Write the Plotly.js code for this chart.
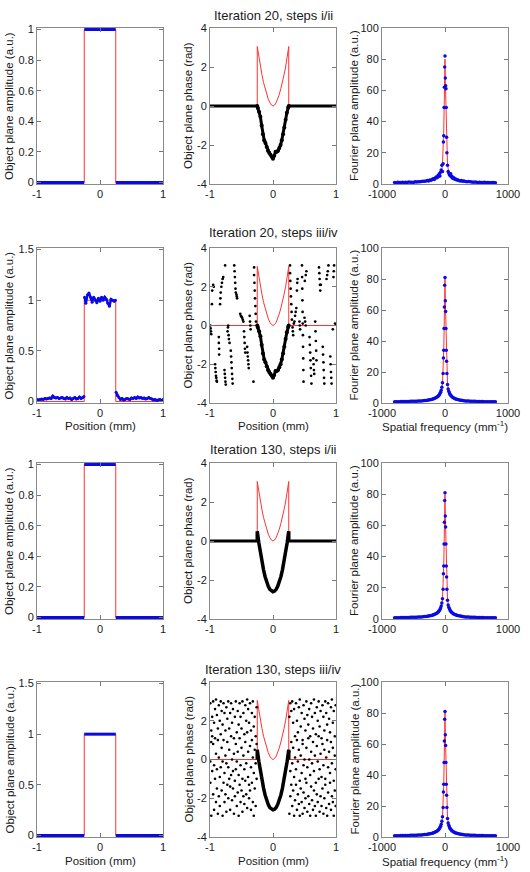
<!DOCTYPE html>
<html><head><meta charset="utf-8">
<script src="https://cdn.plot.ly/plotly-3.0.1.min.js"></script>
<style>html,body{margin:0;padding:0;background:#fff;}#chart{width:530px;height:872px;}</style>
</head><body><div id="chart"></div>
<script>
// ---------------- DATA ----------------
// Object plane: true amplitude (red) and recovered amplitude (blue)
const truthAmpX = [-1, -0.25, -0.25, 0.25, 0.25, 1];
const truthAmpY = [0, 0, 1, 1, 0, 0];
const cleanAmpX = [-1, -0.25, -0.25, -0.25, 0.25, 0.25, 0.25, 1];
const cleanAmpY = [0, 0, null, 1, 1, null, 0, 0];

// Iteration 20, steps iii/iv: noisy recovered amplitude
const noisyAmpX = [-1,-0.975,-0.95,-0.925,-0.9,-0.875,-0.85,-0.825,-0.8,-0.775,-0.75,-0.725,-0.7,-0.675,-0.65,-0.625,-0.6,-0.575,-0.55,-0.525,-0.5,-0.475,-0.45,-0.425,-0.4,-0.375,-0.35,-0.325,-0.3,-0.275,-0.255,
  -0.25,
  -0.245,-0.225,-0.2,-0.175,-0.15,-0.125,-0.1,-0.075,-0.05,-0.025,0,0.025,0.05,0.075,0.1,0.125,0.15,0.175,0.2,0.225,0.245,
  0.25,
  0.255,0.275,0.3,0.325,0.35,0.375,0.4,0.425,0.45,0.475,0.5,0.525,0.55,0.575,0.6,0.625,0.65,0.675,0.7,0.725,0.75,0.775,0.8,0.825,0.85,0.875,0.9,0.925,0.95,0.975,1];
const noisyAmpY = [0.02,0.015,0.02,0.025,0.02,0.03,0.025,0.03,0.035,0.03,0.055,0.04,0.035,0.04,0.03,0.035,0.04,0.03,0.025,0.04,0.03,0.035,0.02,0.03,0.04,0.025,0.03,0.045,0.03,0.04,0.05,
  null,
  1.03,0.97,1.05,1.07,1.03,0.98,1.03,1.0,0.975,1.02,0.99,1.03,1.0,1.03,1.01,0.97,0.94,1.01,1.0,0.99,1.0,
  null,
  0.09,0.06,0.04,0.02,0.03,0.015,0.02,0.03,0.025,0.02,0.035,0.03,0.04,0.03,0.045,0.035,0.04,0.03,0.035,0.025,0.03,0.04,0.03,0.025,0.015,0.02,0.01,0.015,0.02,0.01,0.02];

// Object plane phase: true phase (red)
const truthPhX = [-1,-0.25,-0.25,-0.225,-0.2,-0.175,-0.15,-0.125,-0.1,-0.075,-0.05,-0.025,0,0.025,0.05,0.075,0.1,0.125,0.15,0.175,0.2,0.225,0.25,0.25,1];
const truthPhY = [0,0,3.05,2.5,2.0,1.6,1.2,0.9,0.6,0.35,0.17,0.05,0,0.05,0.17,0.35,0.6,0.9,1.2,1.6,2.0,2.5,3.05,0,0];

// Phase outside the object (flat zero), steps i/ii
const zeroPhX = [-1, -0.25, 0, 0.25, 1];
const zeroPhY = [0, 0, null, 0, 0];

// Iteration 20 recovered phase inside the object (noisy)
const noisyPhX = [-0.25,-0.24,-0.22,-0.2,-0.18,-0.16,-0.14,-0.12,-0.1,-0.08,-0.06,-0.04,-0.02,0,0.02,0.04,0.06,0.08,0.1,0.12,0.14,0.16,0.18,0.2,0.22,0.24,0.25];
const noisyPhY = [0,-0.1,-0.3,-0.55,-1.0,-1.45,-1.75,-1.9,-2.1,-2.3,-2.4,-2.5,-2.6,-2.7,-2.55,-2.35,-2.35,-2.3,-2.15,-2.0,-1.75,-1.45,-1.1,-0.7,-0.35,-0.08,0];

// Iteration 130 recovered phase inside the object (smooth)
const smoothPhX = [-0.25,-0.25,-0.225,-0.2,-0.175,-0.15,-0.125,-0.1,-0.075,-0.05,-0.025,0,0.025,0.05,0.075,0.1,0.125,0.15,0.175,0.2,0.225,0.25,0.25];
const smoothPhY = [0,0.5,-0.09,-0.62,-1.08,-1.48,-1.83,-2.1,-2.32,-2.48,-2.57,-2.6,-2.57,-2.48,-2.32,-2.1,-1.83,-1.48,-1.08,-0.62,-0.09,0.5,0];

// Iteration 20, steps iii/iv: wrapped phase outside the object
const scat20X = [-0.995,-0.99,-0.985,-0.98, -0.97,-0.965,-0.95,-0.94,
  -0.92,-0.915,-0.91,-0.905,-0.9,-0.895,-0.89, -0.86,-0.86,-0.855,-0.855,
  -0.84,-0.835,-0.83,-0.82,-0.81,-0.8,-0.79, -0.76,-0.77,-0.765,-0.76,-0.755,-0.75,
  -0.72,-0.715,-0.71,-0.705,-0.7,-0.69, -0.67,-0.665,-0.66,-0.655,-0.65,-0.645,-0.64,
  -0.615,-0.61,-0.605,-0.6,-0.595,-0.59,-0.58,-0.575,-0.57, -0.52,-0.51,-0.5,-0.49,-0.48,-0.47,
  -0.46,-0.455,-0.45,-0.445,-0.44, -0.41,-0.405,-0.4,-0.395,-0.39,-0.385, -0.37,-0.365,-0.36,-0.355,
  -0.3,-0.3,-0.295,-0.29,-0.285,-0.28,-0.275,-0.27,-0.31,
  0.27,0.27,0.275,0.28,0.285,0.29,0.295,0.3, 0.31,0.315,0.32,0.33,0.34, 0.35,0.36,0.37,0.38,0.385,0.39,
  0.42,0.425,0.43, 0.46,0.462,0.465,0.467,0.47,0.472,0.475,0.477,0.48,0.482,0.485,
  0.5,0.51,0.52,0.505,0.52,0.53, 0.58,0.585,0.59,0.595,0.6,0.605,0.61, 0.64,0.645,0.65,0.655,
  0.67,0.675,0.68,0.685,0.69, 0.73,0.735,0.74,0.745,0.75,0.76, 0.79,0.795,0.8,0.805,0.81,0.815,
  0.85,0.86,0.87,0.88, 0.91,0.915,0.92,0.925,0.93, 0.96,0.965,0.97,0.95,0.985];
const scat20Y = [0.0,-0.15,-0.3,-0.45, 1.1,1.8,2.1,2.0,
  -2.0,-2.2,-2.4,-2.6,-2.7,-2.85,-2.9, -0.6,-0.9,-1.2,-1.5,
  1.1,1.4,1.7,2.0,2.2,2.4,2.5, 3.1,-2.3,-2.5,-2.7,-2.9,-3.05,
  -0.3,-0.1,0.0,-0.5,-0.7,-0.9, -1.3,-1.6,-1.9,-2.2,-2.5,-2.75,-3.0,
  3.1,2.8,2.5,2.2,1.9,1.7,1.6,1.5,1.4, 0.6,0.5,0.45,0.4,0.3,0.2,
  -0.3,-0.6,-0.9,-1.2,-1.4, -1.1,-1.4,-1.6,-1.8,-2.0,-2.2, 0.5,0.2,0.0,-0.2,
  3.0,2.6,2.2,1.8,1.4,1.0,0.6,0.2,-2.9,
  3.1,2.7,2.3,1.9,1.5,1.1,0.7,0.3, -0.1,-0.3,-0.5,0.1,0.2, 0.5,0.7,0.9,1.8,2.2,2.4,
  0.2,0.0,-0.2, 3.1,2.5,1.9,1.3,0.7,0.1,-0.5,-1.1,-1.7,-2.3,-2.9,
  0.4,0.2,0.0,2.3,2.6,2.8, -0.6,-1.0,-1.4,-1.8,-2.2,-2.6,-3.0, -1.7,-2.0,-2.3,-2.5,
  0.2,-0.3,-0.8,-1.3,-1.8, 3.0,2.7,2.4,2.1,1.8,2.1, -1.1,-1.5,-1.9,-2.3,-2.7,-3.0,
  2.4,2.6,2.8,3.1, -1.6,-2.0,-2.4,-2.7,-3.0, 2.5,2.8,3.1,-0.2,0.1];

// Iteration 130, steps iii/iv: scattered phase outside the object (three samples per position)
const scat130X = [-0.995,-0.98,-0.965,-0.95,-0.935,-0.92,-0.905,-0.89,-0.875,-0.86,-0.845,-0.83,-0.815,-0.8,-0.785,-0.77,-0.755,-0.74,-0.725,-0.71,-0.695,-0.68,-0.665,-0.65,-0.635,-0.62,-0.605,-0.59,-0.575,-0.56,-0.545,-0.53,-0.515,-0.5,-0.485,-0.47,-0.455,-0.44,-0.425,-0.41,-0.395,-0.38,-0.365,-0.35,-0.335,-0.32,-0.305,-0.29,-0.275,-0.26,
  0.26,0.275,0.29,0.305,0.32,0.335,0.35,0.365,0.38,0.395,0.41,0.425,0.44,0.455,0.47,0.485,0.5,0.515,0.53,0.545,0.56,0.575,0.59,0.605,0.62,0.635,0.65,0.665,0.68,0.695,0.71,0.725,0.74,0.755,0.77,0.785,0.8,0.815,0.83,0.845,0.86,0.875,0.89,0.905,0.92,0.935,0.95,0.965,0.98,0.995];
const scat130A = [2.9,1.5,2.2,3.0,1.9,2.6,3.1,2.3,1.6,2.8, 2.0,3.0,2.5,1.8,2.9,2.4,1.5,2.7,2.1,3.0, 1.6,2.4,2.9,1.9,2.6,1.1,2.2,3.0,1.4,2.5, 1.8,2.9,2.2,1.6,3.0,2.4,1.3,2.8,2.0,3.1, 2.6,1.9,2.9,1.5,2.4,3.0,1.7,2.2,1.2,2.7,
  2.2,2.9,2.5,3.0,1.9,2.6,1.2,2.9,2.0,1.4, 2.7,3.1,1.7,2.4,1.0,2.8,2.1,1.5,3.0,2.3, 1.8,2.6,1.2,2.9,2.2,1.6,3.1,2.4,1.3,2.7, 2.0,3.0,1.7,2.5,1.1,2.8,2.2,1.5,3.0,2.4, 1.8,2.9,2.1,1.4,2.7,3.1,1.9,2.5,1.2,2.8];
const scat130B = [-0.1,0.9,1.2,0.8,-0.3,1.1,0.3,-0.5,1.0,0.1, -0.9,1.3,0.6,-0.1,1.0,-0.7,0.2,-0.2,0.9,-0.4, 0.5,-1.4,1.2,0.0,-0.6,0.3,-1.1,0.8,-0.1,0.4, -0.8,1.1,-0.3,0.6,-1.0,0.2,-0.5,0.9,-0.2,1.4, 0.4,-1.3,0.7,-0.4,1.0,0.1,-0.7,0.5,-0.2,0.8,
  0.4,-0.6,0.9,-0.2,0.6,-0.9,0.1,-0.5,1.0,-0.1, 0.5,-1.1,0.2,-0.7,0.8,-0.3,0.0,-1.0,0.6,-0.4, 1.1,0.0,-0.8,0.4,-0.2,0.9,-0.6,0.2,-1.2,0.7, -0.1,1.2,-0.5,0.3,-0.9,0.8,-0.3,0.5,-1.0,0.1, 1.0,-0.4,0.4,-0.7,0.9,-0.2,0.6,-1.1,0.2,-0.5];
const scat130C = [-1.2,-2.9,-0.6,-1.8,-2.6,-1.0,-2.2,-1.5,-2.8,-1.9, -2.4,-0.4,-1.6,-2.9,-1.2,-2.2,-1.8,-2.7,-1.3,-2.0, -1.0,-2.6,-0.8,-2.1,-1.5,-2.8,-1.9,-0.5,-2.4,-1.7, -2.9,-1.3,-2.2,-1.6,-2.7,-1.9,-2.3,-1.1,-1.8,-2.5, -0.9,-2.0,-1.6,-2.6,-1.2,-2.2,-2.9,-1.5,-2.4,-1.0,
  -2.8,-1.9,-1.3,-2.4,-1.6,-2.9,-2.1,-1.3,-2.6,-1.8, -2.3,-2.9,-1.5,-2.2,-2.8,-1.7,-2.5,-2.0,-1.2,-2.7, -1.9,-2.3,-2.9,-1.4,-2.1,-2.6,-1.6,-2.4,-2.9,-1.8, -2.2,-1.0,-2.7,-1.9,-2.4,-1.5,-2.8,-2.0,-1.3,-2.5, -2.9,-1.7,-2.3,-1.2,-2.6,-1.9,-2.2,-2.9,-1.6,-2.4];

// Fourier plane: spatial frequency (mm^-1)
const freq = [-800,-775,-750,-725,-700,-675,-650,-625,-600,-575,-550,-525,-500,-475,-450,-425,-400,-375,-350,-325,-300,-280,-260,-240,-220,-200,-185,-170,-155,-140,-125,-110,-100,-90,-80,-70,-60,-50,-40,-30,-25,-20,-15,-10,-5,
  0,
  5,10,15,20,25,30,40,50,60,70,80,90,100,110,125,140,155,170,185,200,220,240,260,280,300,325,350,375,400,425,450,475,500,525,550,575,600,625,650,675,700,725,750,775,800];
const fourierTrue = [0.5,0.55,0.55,0.6,0.6,0.65,0.65,0.7,0.75,0.75,0.8,0.85,0.9,0.95,1.0,1.05,1.1,1.2,1.3,1.4,1.5,1.6,1.75,1.9,2.1,2.3,2.5,2.7,3.0,3.3,3.7,4.2,4.6,5.1,5.8,6.7,8,9.8,12.5,19,29,34,48,62,76,
  80,
  66,59,48,34,27,19,12.5,9.8,8,6.7,5.8,5.1,4.6,4.2,3.7,3.3,3.0,2.7,2.5,2.3,2.1,1.9,1.75,1.6,1.5,1.4,1.3,1.2,1.1,1.05,1.0,0.95,0.9,0.85,0.8,0.75,0.75,0.7,0.65,0.65,0.6,0.6,0.55,0.55,0.5];
const fourierIt20a = [1.0,0.8,1.1,0.9,1.0,1.2,0.9,1.1,1.0,1.3,1.1,1.2,1.0,1.4,1.3,1.5,1.4,1.6,1.8,1.7,2.0,2.2,2.0,2.6,2.4,3.0,3.4,2.9,3.8,4.5,4.0,5.5,4.8,6.5,5.2,7.5,9,12,8,13,27,31,49,62,75,
  82,
  68,63,61,49,30,20,12,8,7,6,5.5,6.5,4.5,5,3.5,4,3,3.2,2.6,2.8,2.3,2.0,2.2,1.8,1.9,1.6,1.5,1.6,1.4,1.3,1.2,1.3,1.1,1.0,1.2,1.0,0.9,1.1,1.0,0.9,1.0,0.8,0.9,1.0,0.8];
const fourierIt20b = [0.8,0.8,0.85,0.85,0.9,0.9,0.95,0.95,1.0,1.0,1.05,1.1,1.1,1.15,1.2,1.25,1.3,1.35,1.45,1.55,1.65,1.75,1.9,2.05,2.25,2.45,2.7,2.9,3.2,3.5,3.9,4.4,4.9,5.4,6.1,7.0,8.3,10.2,13,19,29,34,48,62,76,
  81,
  66,59,48,34,27,19,12,9,7.6,6.5,5.7,5.0,4.5,4.1,3.6,3.2,2.9,2.65,2.45,2.25,2.05,1.85,1.7,1.55,1.45,1.35,1.3,1.25,1.2,1.15,1.1,1.05,1.0,0.95,0.95,0.9,0.9,0.85,0.85,0.8,0.8,0.8,0.75,0.75,0.75];
const fourierIt130 = fourierIt20b;

// Tick labels
const posTicks = [-1, 0, 1], posTickText = ['-1', '0', '1'];
const amp1Ticks = [0, 0.2, 0.4, 0.6, 0.8, 1], amp1TickText = ['0', '0.2', '0.4', '0.6', '0.8', '1'];
const amp15Ticks = [0, 0.5, 1, 1.5], amp15TickText = ['0', '0.5', '1', '1.5'];
const phTicks = [-4, -2, 0, 2, 4], phTickText = ['-4', '-2', '0', '2', '4'];
const fTicks = [-1000, 0, 1000], fTickText = ['-1000', '0', '1000'];
const fyTicks = [0, 20, 40, 60, 80, 100], fyTickText = ['0', '20', '40', '60', '80', '100'];
const rowTitles = ['Iteration 20, steps i/ii', 'Iteration 20, steps iii/iv', 'Iteration 130, steps i/ii', 'Iteration 130, steps iii/iv'];

// ---------------- LAYOUT ----------------
const W = 530, H = 872;
const FONT = 'Liberation Sans, Arial, Helvetica, sans-serif';
const colPx = [[37, 163], [210, 336], [382, 508]];
const rowPx = [[28, 184], [248, 403], [463, 619], [682, 837]];
const RED = 'rgb(255,50,50)', BLUE = 'rgb(10,10,230)', BLACK = '#000';

function sfx(k) { return k === 1 ? '' : String(k); }
function baseAxis() {
  return {ticks: 'inside', ticklen: 4, tickwidth: 1, tickcolor: '#777', showline: true, linecolor: '#8a8a8a', linewidth: 1,
    mirror: 'allticks', showgrid: false, zeroline: false, fixedrange: true,
    tickfont: {family: FONT, size: 11, color: '#1a1a1a'}};
}
const layout = {width: W, height: H, margin: {l: 0, r: 0, t: 0, b: 0}, paper_bgcolor: '#fff', plot_bgcolor: '#fff',
  showlegend: false, font: {family: FONT, color: '#1a1a1a'}, annotations: []};
const traces = [];
function tr(k, x, y, o) {
  traces.push(Object.assign({type: 'scatter', x: x, y: y, xaxis: 'x' + sfx(k), yaxis: 'y' + sfx(k), hoverinfo: 'skip', showlegend: false}, o));
}
const redLine = {mode: 'lines', line: {color: RED, width: 1}};

for (let r = 0; r < 4; r++) {
  for (let c = 0; c < 3; c++) {
    const k = r * 3 + c + 1;
    const xa = Object.assign(baseAxis(), {domain: [colPx[c][0] / W, colPx[c][1] / W], anchor: 'y' + sfx(k)});
    const ya = Object.assign(baseAxis(), {domain: [1 - rowPx[r][1] / H, 1 - rowPx[r][0] / H], anchor: 'x' + sfx(k)});
    if (c === 0) {
      Object.assign(xa, {range: [-1, 1], tickvals: posTicks, ticktext: posTickText});
      if (r % 2 === 0) Object.assign(ya, {range: [-0.01, 1.01], tickvals: amp1Ticks, ticktext: amp1TickText});
      else Object.assign(ya, {range: [-0.015, 1.515], tickvals: amp15Ticks, ticktext: amp15TickText});
    } else if (c === 1) {
      Object.assign(xa, {range: [-1, 1], tickvals: posTicks, ticktext: posTickText});
      Object.assign(ya, {range: [-4, 4], tickvals: phTicks, ticktext: phTickText});
    } else {
      Object.assign(xa, {range: [-1000, 1000], tickvals: fTicks, ticktext: fTickText});
      Object.assign(ya, {range: [0, 100], tickvals: fyTicks, ticktext: fyTickText});
    }
    layout['xaxis' + sfx(k)] = xa;
    layout['yaxis' + sfx(k)] = ya;
  }
}

// Row 1: Iteration 20, steps i/ii
tr(1, truthAmpX, truthAmpY, redLine);
tr(1, cleanAmpX, cleanAmpY, {mode: 'lines', line: {color: BLUE, width: 3}});
tr(2, truthPhX, truthPhY, redLine);
tr(2, zeroPhX, zeroPhY, {mode: 'lines', line: {color: BLACK, width: 3}});
tr(2, noisyPhX, noisyPhY, {mode: 'lines+markers', line: {color: BLACK, width: 3}, marker: {color: BLACK, size: 4}});
tr(3, freq, fourierTrue, redLine);
tr(3, freq, fourierIt20a, {mode: 'markers', marker: {color: BLUE, size: 3.5}, cliponaxis: false});

// Row 2: Iteration 20, steps iii/iv
tr(4, truthAmpX, truthAmpY, redLine);
tr(4, noisyAmpX, noisyAmpY, {mode: 'lines+markers', line: {color: BLUE, width: 2.5}, marker: {color: BLUE, size: 3}});
tr(5, truthPhX, truthPhY, redLine);
tr(5, scat20X, scat20Y, {mode: 'markers', marker: {color: BLACK, size: 2.7}});
tr(5, noisyPhX, noisyPhY, {mode: 'lines+markers', line: {color: BLACK, width: 3}, marker: {color: BLACK, size: 4}});
tr(6, freq, fourierTrue, redLine);
tr(6, freq, fourierIt20b, {mode: 'markers', marker: {color: BLUE, size: 3.5}, cliponaxis: false});

// Row 3: Iteration 130, steps i/ii
tr(7, truthAmpX, truthAmpY, redLine);
tr(7, cleanAmpX, cleanAmpY, {mode: 'lines', line: {color: BLUE, width: 3}});
tr(8, truthPhX, truthPhY, redLine);
tr(8, zeroPhX, zeroPhY, {mode: 'lines', line: {color: BLACK, width: 3}});
tr(8, smoothPhX, smoothPhY, {mode: 'lines', line: {color: BLACK, width: 3.5}});
tr(9, freq, fourierTrue, redLine);
tr(9, freq, fourierIt130, {mode: 'markers', marker: {color: BLUE, size: 3.5}, cliponaxis: false});

// Row 4: Iteration 130, steps iii/iv
tr(10, truthAmpX, truthAmpY, redLine);
tr(10, cleanAmpX, cleanAmpY, {mode: 'lines', line: {color: BLUE, width: 3}});
tr(11, truthPhX, truthPhY, redLine);
tr(11, scat130X, scat130A, {mode: 'markers', marker: {color: BLACK, size: 2.6}});
tr(11, scat130X, scat130B, {mode: 'markers', marker: {color: BLACK, size: 2.6}});
tr(11, scat130X, scat130C, {mode: 'markers', marker: {color: BLACK, size: 2.6}});
tr(11, smoothPhX, smoothPhY, {mode: 'lines', line: {color: BLACK, width: 3.5}});
tr(12, freq, fourierTrue, redLine);
tr(12, freq, fourierIt130, {mode: 'markers', marker: {color: BLUE, size: 3.5}, cliponaxis: false});

// Text annotations
const titleY = [15, 233, 450, 669];
const yTitles = ['Object plane amplitude (a.u.)', 'Object plane phase (rad)', 'Fourier plane amplitude (a.u.)'];
const yTitleX = [9, 188, 354];
function ann(text, xpx, ypx, size, angle) {
  layout.annotations.push({text: text, xref: 'paper', yref: 'paper', x: xpx / W, y: 1 - ypx / H, xanchor: 'center', yanchor: 'middle',
    showarrow: false, textangle: angle || 0, font: {family: FONT, size: size, color: '#1a1a1a'}});
}
for (let r = 0; r < 4; r++) {
  ann(rowTitles[r], (colPx[1][0] + colPx[1][1]) / 2, titleY[r], 13);
  const mid = (rowPx[r][0] + rowPx[r][1]) / 2;
  for (let c = 0; c < 3; c++) ann(yTitles[c], yTitleX[c], mid, 11.5, -90);
}
for (const yb of [426, 861]) {
  ann('Position (mm)', (colPx[0][0] + colPx[0][1]) / 2, yb, 11.5);
  ann('Position (mm)', (colPx[1][0] + colPx[1][1]) / 2, yb, 11.5);
  ann('Spatial frequency (mm<sup>-1</sup>)', (colPx[2][0] + colPx[2][1]) / 2, yb, 11.5);
}

Plotly.newPlot('chart', traces, layout, {staticPlot: true, displayModeBar: false});
</script></body></html>
